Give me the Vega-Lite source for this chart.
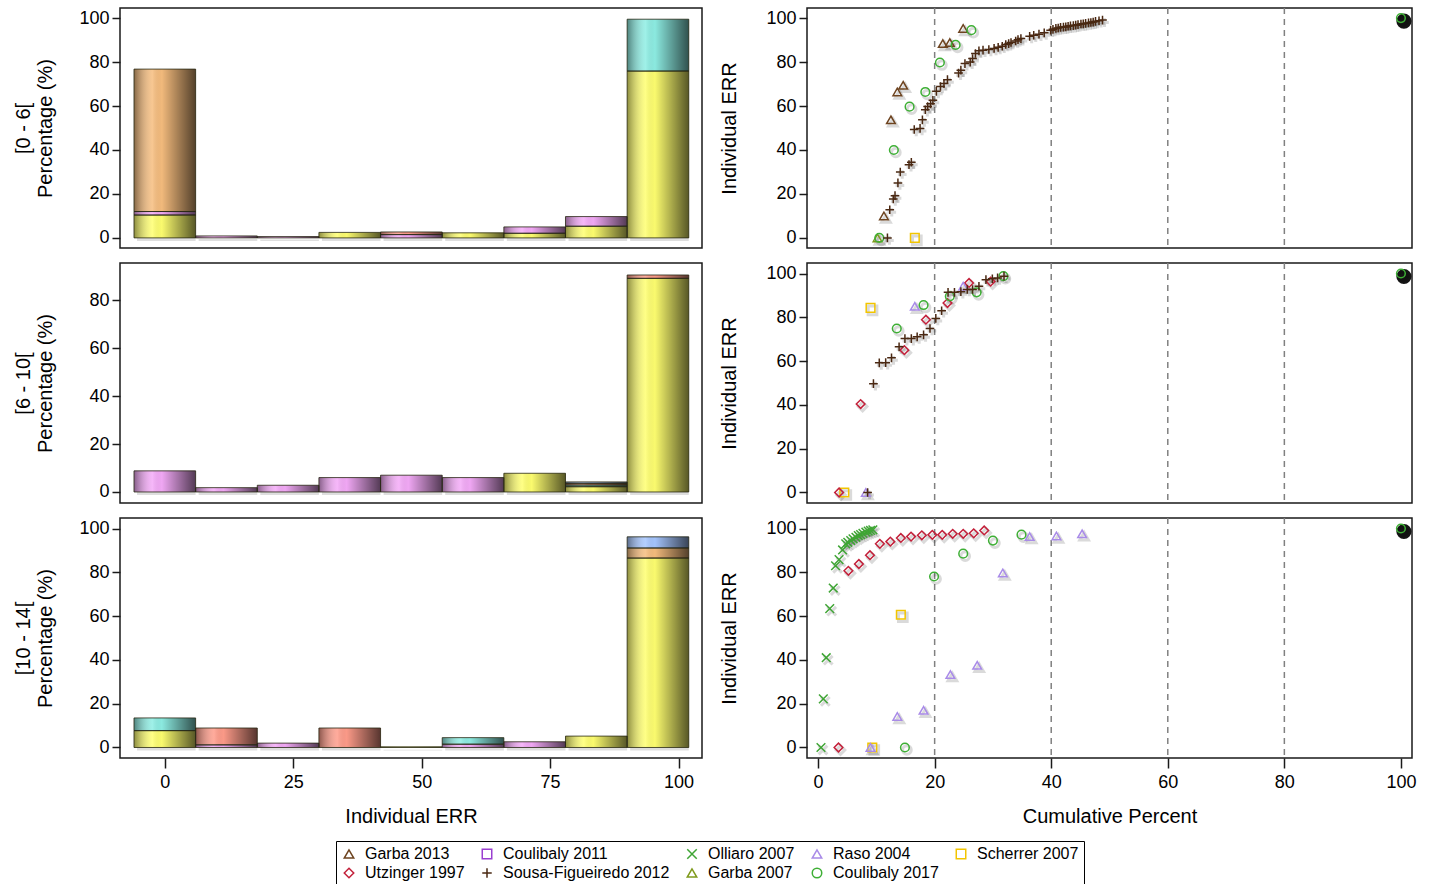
{
  "$schema": "https://vega.github.io/schema/vega-lite/v6.json",
  "padding": {"left": 12, "top": 6, "right": 5, "bottom": 5},
  "background": "#ffffff",
  "spacing": {"row": 9, "column": 15},
  "config": {
    "font": "Liberation Sans",
    "view": {"stroke": "#1a1a1a", "strokeWidth": 1.5},
    "axis": {"domain": false, "grid": false, "tickColor": "#1a1a1a", "tickWidth": 1.5, "tickSize": 8, "labelFontSize": 18, "labelColor": "#000", "titleFontSize": 20, "titleFontWeight": "normal", "titleColor": "#000", "labelPadding": 3}
  },
  "datasets": {
    "bars": [
      {"age":"[0 - 6[","lo":-6,"hi":6,"grp":"a","pct":10.4},
      {"age":"[0 - 6[","lo":-6,"hi":6,"grp":"b","pct":1.6},
      {"age":"[0 - 6[","lo":-6,"hi":6,"grp":"d","pct":64.8},
      {"age":"[0 - 6[","lo":6,"hi":18,"grp":"b","pct":0.9},
      {"age":"[0 - 6[","lo":18,"hi":30,"grp":"b","pct":0.6},
      {"age":"[0 - 6[","lo":30,"hi":42,"grp":"a","pct":2.5},
      {"age":"[0 - 6[","lo":42,"hi":54,"grp":"b","pct":1.5},
      {"age":"[0 - 6[","lo":42,"hi":54,"grp":"e","pct":1.2},
      {"age":"[0 - 6[","lo":54,"hi":66,"grp":"a","pct":2.3},
      {"age":"[0 - 6[","lo":66,"hi":78,"grp":"a","pct":2.1},
      {"age":"[0 - 6[","lo":66,"hi":78,"grp":"b","pct":2.9},
      {"age":"[0 - 6[","lo":78,"hi":90,"grp":"a","pct":5.3},
      {"age":"[0 - 6[","lo":78,"hi":90,"grp":"b","pct":4.4},
      {"age":"[0 - 6[","lo":90,"hi":102,"grp":"a","pct":75.9},
      {"age":"[0 - 6[","lo":90,"hi":102,"grp":"c","pct":23.6},
      {"age":"[6 - 10[","lo":-6,"hi":6,"grp":"b","pct":8.8},
      {"age":"[6 - 10[","lo":6,"hi":18,"grp":"b","pct":1.8},
      {"age":"[6 - 10[","lo":18,"hi":30,"grp":"b","pct":2.8},
      {"age":"[6 - 10[","lo":30,"hi":42,"grp":"b","pct":6.0},
      {"age":"[6 - 10[","lo":42,"hi":54,"grp":"b","pct":7.0},
      {"age":"[6 - 10[","lo":54,"hi":66,"grp":"b","pct":6.0},
      {"age":"[6 - 10[","lo":66,"hi":78,"grp":"a","pct":7.8},
      {"age":"[6 - 10[","lo":78,"hi":90,"grp":"a","pct":2.2},
      {"age":"[6 - 10[","lo":78,"hi":90,"grp":"c","pct":0.7},
      {"age":"[6 - 10[","lo":78,"hi":90,"grp":"f","pct":0.6},
      {"age":"[6 - 10[","lo":78,"hi":90,"grp":"e","pct":0.7},
      {"age":"[6 - 10[","lo":90,"hi":102,"grp":"a","pct":89.1},
      {"age":"[6 - 10[","lo":90,"hi":102,"grp":"e","pct":1.4},
      {"age":"[10 - 14[","lo":-6,"hi":6,"grp":"a","pct":7.7},
      {"age":"[10 - 14[","lo":-6,"hi":6,"grp":"c","pct":5.8},
      {"age":"[10 - 14[","lo":6,"hi":18,"grp":"b","pct":1.2},
      {"age":"[10 - 14[","lo":6,"hi":18,"grp":"e","pct":7.7},
      {"age":"[10 - 14[","lo":18,"hi":30,"grp":"b","pct":2.0},
      {"age":"[10 - 14[","lo":30,"hi":42,"grp":"e","pct":8.9},
      {"age":"[10 - 14[","lo":42,"hi":54,"grp":"a","pct":0.3},
      {"age":"[10 - 14[","lo":54,"hi":66,"grp":"b","pct":1.5},
      {"age":"[10 - 14[","lo":54,"hi":66,"grp":"c","pct":3.0},
      {"age":"[10 - 14[","lo":66,"hi":78,"grp":"b","pct":2.6},
      {"age":"[10 - 14[","lo":78,"hi":90,"grp":"a","pct":5.2},
      {"age":"[10 - 14[","lo":90,"hi":102,"grp":"a","pct":86.5},
      {"age":"[10 - 14[","lo":90,"hi":102,"grp":"d","pct":4.6},
      {"age":"[10 - 14[","lo":90,"hi":102,"grp":"f","pct":5.1}
    ],
    "vlines": [{"cp":20},{"cp":40},{"cp":60},{"cp":80}],
    "pts": [
      {"age":"[0 - 6[","study":"Garba 2013","cp":24.9,"err":95.3},
      {"age":"[0 - 6[","study":"Garba 2013","cp":21.4,"err":88.4},
      {"age":"[0 - 6[","study":"Garba 2013","cp":22.6,"err":88.9},
      {"age":"[0 - 6[","study":"Garba 2013","cp":14.6,"err":69.4},
      {"age":"[0 - 6[","study":"Garba 2013","cp":13.6,"err":66.4},
      {"age":"[0 - 6[","study":"Garba 2013","cp":12.5,"err":53.7},
      {"age":"[0 - 6[","study":"Garba 2013","cp":11.3,"err":10.0},
      {"age":"[0 - 6[","study":"Garba 2007","cp":10.2,"err":0},
      {"age":"[0 - 6[","study":"Scherrer 2007","cp":16.6,"err":0},
      {"age":"[0 - 6[","study":"Coulibaly 2017","cp":26.3,"err":94.5},
      {"age":"[0 - 6[","study":"Coulibaly 2017","cp":23.6,"err":87.8},
      {"age":"[0 - 6[","study":"Coulibaly 2017","cp":20.9,"err":79.8},
      {"age":"[0 - 6[","study":"Coulibaly 2017","cp":18.4,"err":66.4},
      {"age":"[0 - 6[","study":"Coulibaly 2017","cp":15.7,"err":59.7},
      {"age":"[0 - 6[","study":"Coulibaly 2017","cp":13.0,"err":40.0},
      {"age":"[0 - 6[","study":"Coulibaly 2017","cp":10.5,"err":0},
      {"age":"[0 - 6[","study":"Coulibaly 2017","cp":100,"err":100},
      {"age":"[0 - 6[","study":"Sousa-Figueiredo 2012","cp":11.9,"err":0},
      {"age":"[0 - 6[","study":"Sousa-Figueiredo 2012","cp":12.3,"err":12.8},
      {"age":"[0 - 6[","study":"Sousa-Figueiredo 2012","cp":12.9,"err":17.7},
      {"age":"[0 - 6[","study":"Sousa-Figueiredo 2012","cp":13.2,"err":19.2},
      {"age":"[0 - 6[","study":"Sousa-Figueiredo 2012","cp":13.7,"err":25.0},
      {"age":"[0 - 6[","study":"Sousa-Figueiredo 2012","cp":14.1,"err":30.0},
      {"age":"[0 - 6[","study":"Sousa-Figueiredo 2012","cp":15.6,"err":33.3},
      {"age":"[0 - 6[","study":"Sousa-Figueiredo 2012","cp":16.0,"err":34.4},
      {"age":"[0 - 6[","study":"Sousa-Figueiredo 2012","cp":16.5,"err":49.3},
      {"age":"[0 - 6[","study":"Sousa-Figueiredo 2012","cp":17.5,"err":49.8},
      {"age":"[0 - 6[","study":"Sousa-Figueiredo 2012","cp":17.9,"err":53.7},
      {"age":"[0 - 6[","study":"Sousa-Figueiredo 2012","cp":18.4,"err":58.3},
      {"age":"[0 - 6[","study":"Sousa-Figueiredo 2012","cp":18.8,"err":59.8},
      {"age":"[0 - 6[","study":"Sousa-Figueiredo 2012","cp":19.3,"err":61.0},
      {"age":"[0 - 6[","study":"Sousa-Figueiredo 2012","cp":19.7,"err":62.6},
      {"age":"[0 - 6[","study":"Sousa-Figueiredo 2012","cp":20.3,"err":66.7},
      {"age":"[0 - 6[","study":"Sousa-Figueiredo 2012","cp":21.0,"err":68.9},
      {"age":"[0 - 6[","study":"Sousa-Figueiredo 2012","cp":21.6,"err":70.2},
      {"age":"[0 - 6[","study":"Sousa-Figueiredo 2012","cp":22.2,"err":72.0},
      {"age":"[0 - 6[","study":"Sousa-Figueiredo 2012","cp":24.1,"err":75.0},
      {"age":"[0 - 6[","study":"Sousa-Figueiredo 2012","cp":24.5,"err":76.3},
      {"age":"[0 - 6[","study":"Sousa-Figueiredo 2012","cp":25.2,"err":79.3},
      {"age":"[0 - 6[","study":"Sousa-Figueiredo 2012","cp":26.1,"err":80.0},
      {"age":"[0 - 6[","study":"Sousa-Figueiredo 2012","cp":26.5,"err":81.6},
      {"age":"[0 - 6[","study":"Sousa-Figueiredo 2012","cp":27.0,"err":83.9},
      {"age":"[0 - 6[","study":"Sousa-Figueiredo 2012","cp":27.6,"err":85.1},
      {"age":"[0 - 6[","study":"Sousa-Figueiredo 2012","cp":28.3,"err":85.4},
      {"age":"[0 - 6[","study":"Sousa-Figueiredo 2012","cp":29.3,"err":85.7},
      {"age":"[0 - 6[","study":"Sousa-Figueiredo 2012","cp":30.2,"err":86.2},
      {"age":"[0 - 6[","study":"Sousa-Figueiredo 2012","cp":30.9,"err":86.7},
      {"age":"[0 - 6[","study":"Sousa-Figueiredo 2012","cp":31.6,"err":87.2},
      {"age":"[0 - 6[","study":"Sousa-Figueiredo 2012","cp":32.2,"err":88.0},
      {"age":"[0 - 6[","study":"Sousa-Figueiredo 2012","cp":32.7,"err":88.4},
      {"age":"[0 - 6[","study":"Sousa-Figueiredo 2012","cp":33.1,"err":88.9},
      {"age":"[0 - 6[","study":"Sousa-Figueiredo 2012","cp":33.9,"err":89.6},
      {"age":"[0 - 6[","study":"Sousa-Figueiredo 2012","cp":34.3,"err":90.2},
      {"age":"[0 - 6[","study":"Sousa-Figueiredo 2012","cp":34.8,"err":90.7},
      {"age":"[0 - 6[","study":"Sousa-Figueiredo 2012","cp":36.3,"err":91.7},
      {"age":"[0 - 6[","study":"Sousa-Figueiredo 2012","cp":37.0,"err":92.2},
      {"age":"[0 - 6[","study":"Sousa-Figueiredo 2012","cp":37.9,"err":92.7},
      {"age":"[0 - 6[","study":"Sousa-Figueiredo 2012","cp":38.8,"err":93.3},
      {"age":"[0 - 6[","study":"Sousa-Figueiredo 2012","cp":39.9,"err":94.5},
      {"age":"[0 - 6[","study":"Sousa-Figueiredo 2012","cp":40.3,"err":94.9},
      {"age":"[0 - 6[","study":"Sousa-Figueiredo 2012","cp":40.8,"err":95.3},
      {"age":"[0 - 6[","study":"Sousa-Figueiredo 2012","cp":41.2,"err":95.5},
      {"age":"[0 - 6[","study":"Sousa-Figueiredo 2012","cp":41.6,"err":95.8},
      {"age":"[0 - 6[","study":"Sousa-Figueiredo 2012","cp":42.1,"err":95.9},
      {"age":"[0 - 6[","study":"Sousa-Figueiredo 2012","cp":42.5,"err":96.0},
      {"age":"[0 - 6[","study":"Sousa-Figueiredo 2012","cp":42.9,"err":96.3},
      {"age":"[0 - 6[","study":"Sousa-Figueiredo 2012","cp":43.3,"err":96.5},
      {"age":"[0 - 6[","study":"Sousa-Figueiredo 2012","cp":43.8,"err":96.6},
      {"age":"[0 - 6[","study":"Sousa-Figueiredo 2012","cp":44.2,"err":96.8},
      {"age":"[0 - 6[","study":"Sousa-Figueiredo 2012","cp":44.6,"err":97.0},
      {"age":"[0 - 6[","study":"Sousa-Figueiredo 2012","cp":45.1,"err":97.3},
      {"age":"[0 - 6[","study":"Sousa-Figueiredo 2012","cp":45.5,"err":97.4},
      {"age":"[0 - 6[","study":"Sousa-Figueiredo 2012","cp":45.9,"err":97.6},
      {"age":"[0 - 6[","study":"Sousa-Figueiredo 2012","cp":46.4,"err":97.8},
      {"age":"[0 - 6[","study":"Sousa-Figueiredo 2012","cp":46.8,"err":98.0},
      {"age":"[0 - 6[","study":"Sousa-Figueiredo 2012","cp":47.2,"err":98.2},
      {"age":"[0 - 6[","study":"Sousa-Figueiredo 2012","cp":47.6,"err":98.5},
      {"age":"[0 - 6[","study":"Sousa-Figueiredo 2012","cp":48.2,"err":98.8},
      {"age":"[0 - 6[","study":"Sousa-Figueiredo 2012","cp":48.8,"err":99.1},
      {"age":"[6 - 10[","study":"Scherrer 2007","cp":9.0,"err":84.3},
      {"age":"[6 - 10[","study":"Scherrer 2007","cp":4.5,"err":0},
      {"age":"[6 - 10[","study":"Utzinger 1997","cp":3.6,"err":0},
      {"age":"[6 - 10[","study":"Utzinger 1997","cp":7.3,"err":40.4},
      {"age":"[6 - 10[","study":"Utzinger 1997","cp":14.8,"err":65.0},
      {"age":"[6 - 10[","study":"Utzinger 1997","cp":18.5,"err":78.9},
      {"age":"[6 - 10[","study":"Utzinger 1997","cp":22.2,"err":86.5},
      {"age":"[6 - 10[","study":"Utzinger 1997","cp":25.9,"err":95.7},
      {"age":"[6 - 10[","study":"Utzinger 1997","cp":29.6,"err":96.3},
      {"age":"[6 - 10[","study":"Raso 2004","cp":16.6,"err":85.0},
      {"age":"[6 - 10[","study":"Raso 2004","cp":8.2,"err":0},
      {"age":"[6 - 10[","study":"Raso 2004","cp":24.9,"err":94.2},
      {"age":"[6 - 10[","study":"Coulibaly 2017","cp":18.1,"err":85.6},
      {"age":"[6 - 10[","study":"Coulibaly 2017","cp":13.5,"err":74.9},
      {"age":"[6 - 10[","study":"Coulibaly 2017","cp":22.6,"err":89.6},
      {"age":"[6 - 10[","study":"Coulibaly 2017","cp":27.2,"err":91.4},
      {"age":"[6 - 10[","study":"Coulibaly 2017","cp":31.8,"err":98.8},
      {"age":"[6 - 10[","study":"Coulibaly 2017","cp":100,"err":100},
      {"age":"[6 - 10[","study":"Sousa-Figueiredo 2012","cp":8.5,"err":0},
      {"age":"[6 - 10[","study":"Sousa-Figueiredo 2012","cp":9.5,"err":49.7},
      {"age":"[6 - 10[","study":"Sousa-Figueiredo 2012","cp":10.5,"err":59.2},
      {"age":"[6 - 10[","study":"Sousa-Figueiredo 2012","cp":11.6,"err":59.3},
      {"age":"[6 - 10[","study":"Sousa-Figueiredo 2012","cp":12.6,"err":61.5},
      {"age":"[6 - 10[","study":"Sousa-Figueiredo 2012","cp":13.9,"err":66.5},
      {"age":"[6 - 10[","study":"Sousa-Figueiredo 2012","cp":14.9,"err":70.3},
      {"age":"[6 - 10[","study":"Sousa-Figueiredo 2012","cp":16.0,"err":70.3},
      {"age":"[6 - 10[","study":"Sousa-Figueiredo 2012","cp":17.0,"err":71.1},
      {"age":"[6 - 10[","study":"Sousa-Figueiredo 2012","cp":18.1,"err":72.0},
      {"age":"[6 - 10[","study":"Sousa-Figueiredo 2012","cp":19.2,"err":74.9},
      {"age":"[6 - 10[","study":"Sousa-Figueiredo 2012","cp":20.2,"err":79.5},
      {"age":"[6 - 10[","study":"Sousa-Figueiredo 2012","cp":21.2,"err":83.0},
      {"age":"[6 - 10[","study":"Sousa-Figueiredo 2012","cp":22.3,"err":91.4},
      {"age":"[6 - 10[","study":"Sousa-Figueiredo 2012","cp":23.4,"err":91.4},
      {"age":"[6 - 10[","study":"Sousa-Figueiredo 2012","cp":24.5,"err":91.7},
      {"age":"[6 - 10[","study":"Sousa-Figueiredo 2012","cp":25.6,"err":92.7},
      {"age":"[6 - 10[","study":"Sousa-Figueiredo 2012","cp":26.5,"err":92.7},
      {"age":"[6 - 10[","study":"Sousa-Figueiredo 2012","cp":27.6,"err":94.2},
      {"age":"[6 - 10[","study":"Sousa-Figueiredo 2012","cp":28.8,"err":97.2},
      {"age":"[6 - 10[","study":"Sousa-Figueiredo 2012","cp":29.9,"err":97.6},
      {"age":"[6 - 10[","study":"Sousa-Figueiredo 2012","cp":30.8,"err":98.0},
      {"age":"[6 - 10[","study":"Sousa-Figueiredo 2012","cp":31.9,"err":98.8},
      {"age":"[10 - 14[","study":"Olliaro 2007","cp":0.5,"err":0},
      {"age":"[10 - 14[","study":"Olliaro 2007","cp":0.9,"err":22.2},
      {"age":"[10 - 14[","study":"Olliaro 2007","cp":1.4,"err":41.0},
      {"age":"[10 - 14[","study":"Olliaro 2007","cp":2.0,"err":63.4},
      {"age":"[10 - 14[","study":"Olliaro 2007","cp":2.6,"err":72.8},
      {"age":"[10 - 14[","study":"Olliaro 2007","cp":3.0,"err":83.0},
      {"age":"[10 - 14[","study":"Olliaro 2007","cp":3.6,"err":85.8},
      {"age":"[10 - 14[","study":"Olliaro 2007","cp":4.2,"err":90.2},
      {"age":"[10 - 14[","study":"Olliaro 2007","cp":4.75,"err":93.0},
      {"age":"[10 - 14[","study":"Olliaro 2007","cp":5.1,"err":93.7},
      {"age":"[10 - 14[","study":"Olliaro 2007","cp":5.6,"err":94.5},
      {"age":"[10 - 14[","study":"Olliaro 2007","cp":6.0,"err":95.3},
      {"age":"[10 - 14[","study":"Olliaro 2007","cp":6.5,"err":96.0},
      {"age":"[10 - 14[","study":"Olliaro 2007","cp":6.9,"err":96.8},
      {"age":"[10 - 14[","study":"Olliaro 2007","cp":7.3,"err":97.2},
      {"age":"[10 - 14[","study":"Olliaro 2007","cp":7.7,"err":97.8},
      {"age":"[10 - 14[","study":"Olliaro 2007","cp":8.2,"err":98.3},
      {"age":"[10 - 14[","study":"Olliaro 2007","cp":8.6,"err":98.8},
      {"age":"[10 - 14[","study":"Olliaro 2007","cp":9.0,"err":99.1},
      {"age":"[10 - 14[","study":"Olliaro 2007","cp":9.4,"err":99.4},
      {"age":"[10 - 14[","study":"Utzinger 1997","cp":3.5,"err":0},
      {"age":"[10 - 14[","study":"Utzinger 1997","cp":5.2,"err":80.7},
      {"age":"[10 - 14[","study":"Utzinger 1997","cp":7.0,"err":83.8},
      {"age":"[10 - 14[","study":"Utzinger 1997","cp":8.9,"err":87.8},
      {"age":"[10 - 14[","study":"Utzinger 1997","cp":10.6,"err":93.0},
      {"age":"[10 - 14[","study":"Utzinger 1997","cp":12.4,"err":94.0},
      {"age":"[10 - 14[","study":"Utzinger 1997","cp":14.2,"err":95.7},
      {"age":"[10 - 14[","study":"Utzinger 1997","cp":15.95,"err":96.3},
      {"age":"[10 - 14[","study":"Utzinger 1997","cp":17.8,"err":96.9},
      {"age":"[10 - 14[","study":"Utzinger 1997","cp":19.6,"err":97.1},
      {"age":"[10 - 14[","study":"Utzinger 1997","cp":21.3,"err":97.1},
      {"age":"[10 - 14[","study":"Utzinger 1997","cp":23.1,"err":97.6},
      {"age":"[10 - 14[","study":"Utzinger 1997","cp":24.9,"err":97.6},
      {"age":"[10 - 14[","study":"Utzinger 1997","cp":26.7,"err":97.8},
      {"age":"[10 - 14[","study":"Utzinger 1997","cp":28.5,"err":99.1},
      {"age":"[10 - 14[","study":"Coulibaly 2017","cp":14.9,"err":0},
      {"age":"[10 - 14[","study":"Coulibaly 2017","cp":19.9,"err":78.1},
      {"age":"[10 - 14[","study":"Coulibaly 2017","cp":24.9,"err":88.5},
      {"age":"[10 - 14[","study":"Coulibaly 2017","cp":30.0,"err":94.5},
      {"age":"[10 - 14[","study":"Coulibaly 2017","cp":34.9,"err":97.2},
      {"age":"[10 - 14[","study":"Coulibaly 2017","cp":100,"err":100},
      {"age":"[10 - 14[","study":"Scherrer 2007","cp":14.2,"err":60.6},
      {"age":"[10 - 14[","study":"Scherrer 2007","cp":9.3,"err":0},
      {"age":"[10 - 14[","study":"Raso 2004","cp":9.0,"err":0},
      {"age":"[10 - 14[","study":"Raso 2004","cp":13.6,"err":14.2},
      {"age":"[10 - 14[","study":"Raso 2004","cp":18.1,"err":17.0},
      {"age":"[10 - 14[","study":"Raso 2004","cp":22.7,"err":33.3},
      {"age":"[10 - 14[","study":"Raso 2004","cp":27.3,"err":37.5},
      {"age":"[10 - 14[","study":"Raso 2004","cp":31.7,"err":79.7},
      {"age":"[10 - 14[","study":"Raso 2004","cp":36.3,"err":96.3},
      {"age":"[10 - 14[","study":"Raso 2004","cp":40.9,"err":96.6},
      {"age":"[10 - 14[","study":"Raso 2004","cp":45.3,"err":97.6}
    ]
  },
  "columns": 2,
  "concat": [
    {
      "width": 582, "height": 240,
      "data": {"name": "bars"},
      "transform": [{"filter": "datum.age == '[0 - 6['"}],
      "encoding": {
        "x": {"field": "lo", "type": "quantitative", "scale": {"domain": [-7.75, 103.6], "nice": false, "zero": false}, "axis": null},
        "x2": {"field": "hi"},
        "y": {"field": "pct", "type": "quantitative", "stack": "zero", "scale": {"domain": [-4.6, 104.6], "nice": false, "zero": false},
              "axis": {"values": [0, 20, 40, 60, 80, 100], "title": ["[0 - 6[", "Percentage (%)"], "titleLineHeight": 22, "minExtent": 43, "maxExtent": 43, "titlePadding": 22}},
        "order": {"field": "grp", "sort": "ascending"}
      },
      "layer": [
        {"mark": {"type": "bar", "orient": "vertical", "fill": "#000", "opacity": 0.13, "xOffset": 3, "yOffset": 3}, "encoding": {"detail": {"field": "grp"}}},
        {"mark": {"type": "bar", "orient": "vertical"}, "encoding": {"color": {"field": "grp", "type": "nominal", "scale": {"domain": ["a","b","c","d","e","f"], "range": ["#ffff70","#f4aaf8","#8eeee4","#f6bd7e","#ff9c8a","#a6c6ff"]}, "legend": null}}},
        {"mark": {"type": "bar", "orient": "vertical", "stroke": "rgba(40,40,20,0.8)", "strokeWidth": 1,
                  "fill": {"gradient": "linear", "x1": 0, "y1": 0, "x2": 1, "y2": 0, "stops": [{"offset": 0, "color": "rgba(0,0,0,0.45)"}, {"offset": 0.3, "color": "rgba(255,255,255,0.15)"}, {"offset": 0.45, "color": "rgba(0,0,0,0.02)"}, {"offset": 1, "color": "rgba(0,0,0,0.66)"}]}},
         "encoding": {"detail": {"field": "grp"}}}
      ]
    },
    {
      "width": 605, "height": 240,
      "layer": [
        {"data": {"name": "vlines"}, "mark": {"type": "rule", "strokeDash": [6, 5], "color": "#808080", "strokeWidth": 1.5},
         "encoding": {"x": {"field": "cp", "type": "quantitative", "scale": {"domain": [-1.9, 101.9], "nice": false, "zero": false}, "axis": null}}},
        {"data": {"name": "pts"}, "transform": [{"filter": "datum.age == '[0 - 6[' && datum.cp == 100"}],
         "mark": {"type": "point", "shape": "circle", "filled": true, "color": "#000", "opacity": 0.92, "size": 230, "xOffset": 3, "yOffset": 3},
         "encoding": {"x": {"field": "cp", "type": "quantitative", "scale": {"domain": [-1.9, 101.9], "nice": false, "zero": false}, "axis": null},
                      "y": {"field": "err", "type": "quantitative", "scale": {"domain": [-4.6, 104.6], "nice": false, "zero": false}, "axis": {"values": [0, 20, 40, 60, 80, 100], "title": "Individual ERR", "minExtent": 43, "maxExtent": 43, "titlePadding": 25}}}},
        {"mark": {"type": "rule", "strokeDash": [9, 5], "color": "#858585", "strokeWidth": 2.5},
         "encoding": {"y": {"datum": 0.5, "type": "quantitative", "scale": {"domain": [-4.6, 104.6], "nice": false, "zero": false}, "axis": {"values": [0, 20, 40, 60, 80, 100], "title": "Individual ERR", "minExtent": 43, "maxExtent": 43, "titlePadding": 25}}}},
        {"data": {"name": "pts"}, "transform": [{"filter": "datum.age == '[0 - 6['"}],
         "mark": {"type": "point", "filled": false, "size": 75, "strokeWidth": 3, "stroke": "#000", "opacity": 0.14, "xOffset": 2, "yOffset": 2.5},
         "encoding": {
           "x": {"field": "cp", "type": "quantitative", "scale": {"domain": [-1.9, 101.9], "nice": false, "zero": false}, "axis": null},
           "y": {"field": "err", "type": "quantitative", "scale": {"domain": [-4.6, 104.6], "nice": false, "zero": false}, "axis": {"values": [0, 20, 40, 60, 80, 100], "title": "Individual ERR", "minExtent": 43, "maxExtent": 43, "titlePadding": 25}},
           "shape": {"condition": [
             {"test": "datum.study == 'Garba 2013' || datum.study == 'Raso 2004' || datum.study == 'Garba 2007'", "value": "triangle-up"},
             {"test": "datum.study == 'Coulibaly 2011' || datum.study == 'Scherrer 2007'", "value": "square"},
             {"test": "datum.study == 'Olliaro 2007'", "value": "M-1,-1L1,1M-1,1L1,-1"},
             {"test": "datum.study == 'Utzinger 1997'", "value": "diamond"},
             {"test": "datum.study == 'Sousa-Figueiredo 2012'", "value": "M0,-1L0,1M-1,0L1,0"}], "value": "circle"}
         }},
        {"data": {"name": "pts"}, "transform": [{"filter": "datum.age == '[0 - 6['"}],
         "mark": {"type": "point", "filled": false, "size": 75, "strokeWidth": 1.5, "opacity": 1},
         "encoding": {
           "x": {"field": "cp", "type": "quantitative", "scale": {"domain": [-1.9, 101.9], "nice": false, "zero": false}, "axis": null},
           "y": {"field": "err", "type": "quantitative", "scale": {"domain": [-4.6, 104.6], "nice": false, "zero": false}, "axis": {"values": [0, 20, 40, 60, 80, 100], "title": "Individual ERR", "minExtent": 43, "maxExtent": 43, "titlePadding": 25}},
           "stroke": {"field": "study", "type": "nominal", "scale": {"domain": ["Garba 2013","Coulibaly 2011","Olliaro 2007","Raso 2004","Scherrer 2007","Utzinger 1997","Sousa-Figueiredo 2012","Garba 2007","Coulibaly 2017"], "range": ["#6e4420","#9a3fd0","#3fa535","#a98be8","#f2c500","#c3203a","#4a2812","#7f9a1c","#3eaf35"]},
                      "legend": {"orient": "none", "legendX": 216, "legendY": 833, "direction": "horizontal", "columns": 5, "title": null, "strokeColor": "#000", "padding": 5, "labelFontSize": 16, "labelColor": "#000", "labelLimit": 300, "symbolSize": 90, "symbolStrokeWidth": 1.5, "columnPadding": 14, "rowPadding": 3, "labelOffset": 8}},
           "shape": {"field": "study", "type": "nominal", "scale": {"domain": ["Garba 2013","Coulibaly 2011","Olliaro 2007","Raso 2004","Scherrer 2007","Utzinger 1997","Sousa-Figueiredo 2012","Garba 2007","Coulibaly 2017"], "range": ["triangle-up","square","M-1,-1L1,1M-1,1L1,-1","triangle-up","square","diamond","M0,-1L0,1M-1,0L1,0","triangle-up","circle"]},
                      "legend": {"orient": "none", "legendX": 216, "legendY": 833, "direction": "horizontal", "columns": 5, "title": null, "strokeColor": "#000", "padding": 5, "labelFontSize": 16, "labelColor": "#000", "labelLimit": 300, "symbolSize": 90, "symbolStrokeWidth": 1.5, "columnPadding": 14, "rowPadding": 3, "labelOffset": 8}}
         }}
      ]
    },
    {
      "width": 582, "height": 240,
      "data": {"name": "bars"},
      "transform": [{"filter": "datum.age == '[6 - 10['"}],
      "encoding": {
        "x": {"field": "lo", "type": "quantitative", "scale": {"domain": [-7.75, 103.6], "nice": false, "zero": false}, "axis": null},
        "x2": {"field": "hi"},
        "y": {"field": "pct", "type": "quantitative", "stack": "zero", "scale": {"domain": [-4.6, 95.5], "nice": false, "zero": false},
              "axis": {"values": [0, 20, 40, 60, 80], "title": ["[6 - 10[", "Percentage (%)"], "titleLineHeight": 22, "minExtent": 43, "maxExtent": 43, "titlePadding": 22}},
        "order": {"field": "grp", "sort": "ascending"}
      },
      "layer": [
        {"mark": {"type": "bar", "orient": "vertical", "fill": "#000", "opacity": 0.13, "xOffset": 3, "yOffset": 3}, "encoding": {"detail": {"field": "grp"}}},
        {"mark": {"type": "bar", "orient": "vertical"}, "encoding": {"color": {"field": "grp", "type": "nominal", "scale": {"domain": ["a","b","c","d","e","f"], "range": ["#ffff70","#f4aaf8","#8eeee4","#f6bd7e","#ff9c8a","#a6c6ff"]}, "legend": null}}},
        {"mark": {"type": "bar", "orient": "vertical", "stroke": "rgba(40,40,20,0.8)", "strokeWidth": 1,
                  "fill": {"gradient": "linear", "x1": 0, "y1": 0, "x2": 1, "y2": 0, "stops": [{"offset": 0, "color": "rgba(0,0,0,0.45)"}, {"offset": 0.3, "color": "rgba(255,255,255,0.15)"}, {"offset": 0.45, "color": "rgba(0,0,0,0.02)"}, {"offset": 1, "color": "rgba(0,0,0,0.66)"}]}},
         "encoding": {"detail": {"field": "grp"}}}
      ]
    },
    {
      "width": 605, "height": 240,
      "layer": [
        {"data": {"name": "vlines"}, "mark": {"type": "rule", "strokeDash": [6, 5], "color": "#808080", "strokeWidth": 1.5},
         "encoding": {"x": {"field": "cp", "type": "quantitative", "scale": {"domain": [-1.9, 101.9], "nice": false, "zero": false}, "axis": null}}},
        {"data": {"name": "pts"}, "transform": [{"filter": "datum.age == '[6 - 10[' && datum.cp == 100"}],
         "mark": {"type": "point", "shape": "circle", "filled": true, "color": "#000", "opacity": 0.92, "size": 230, "xOffset": 3, "yOffset": 3},
         "encoding": {"x": {"field": "cp", "type": "quantitative", "scale": {"domain": [-1.9, 101.9], "nice": false, "zero": false}, "axis": null},
                      "y": {"field": "err", "type": "quantitative", "scale": {"domain": [-4.8, 104.8], "nice": false, "zero": false}, "axis": {"values": [0, 20, 40, 60, 80, 100], "title": "Individual ERR", "minExtent": 43, "maxExtent": 43, "titlePadding": 25}}}},
        {"mark": {"type": "rule", "strokeDash": [9, 5], "color": "#858585", "strokeWidth": 2.5},
         "encoding": {"y": {"datum": 0.5, "type": "quantitative", "scale": {"domain": [-4.8, 104.8], "nice": false, "zero": false}, "axis": {"values": [0, 20, 40, 60, 80, 100], "title": "Individual ERR", "minExtent": 43, "maxExtent": 43, "titlePadding": 25}}}},
        {"data": {"name": "pts"}, "transform": [{"filter": "datum.age == '[6 - 10['"}],
         "mark": {"type": "point", "filled": false, "size": 75, "strokeWidth": 3, "stroke": "#000", "opacity": 0.14, "xOffset": 2, "yOffset": 2.5},
         "encoding": {
           "x": {"field": "cp", "type": "quantitative", "scale": {"domain": [-1.9, 101.9], "nice": false, "zero": false}, "axis": null},
           "y": {"field": "err", "type": "quantitative", "scale": {"domain": [-4.8, 104.8], "nice": false, "zero": false}, "axis": {"values": [0, 20, 40, 60, 80, 100], "title": "Individual ERR", "minExtent": 43, "maxExtent": 43, "titlePadding": 25}},
           "shape": {"condition": [
             {"test": "datum.study == 'Garba 2013' || datum.study == 'Raso 2004' || datum.study == 'Garba 2007'", "value": "triangle-up"},
             {"test": "datum.study == 'Coulibaly 2011' || datum.study == 'Scherrer 2007'", "value": "square"},
             {"test": "datum.study == 'Olliaro 2007'", "value": "M-1,-1L1,1M-1,1L1,-1"},
             {"test": "datum.study == 'Utzinger 1997'", "value": "diamond"},
             {"test": "datum.study == 'Sousa-Figueiredo 2012'", "value": "M0,-1L0,1M-1,0L1,0"}], "value": "circle"}
         }},
        {"data": {"name": "pts"}, "transform": [{"filter": "datum.age == '[6 - 10['"}],
         "mark": {"type": "point", "filled": false, "size": 75, "strokeWidth": 1.5, "opacity": 1},
         "encoding": {
           "x": {"field": "cp", "type": "quantitative", "scale": {"domain": [-1.9, 101.9], "nice": false, "zero": false}, "axis": null},
           "y": {"field": "err", "type": "quantitative", "scale": {"domain": [-4.8, 104.8], "nice": false, "zero": false}, "axis": {"values": [0, 20, 40, 60, 80, 100], "title": "Individual ERR", "minExtent": 43, "maxExtent": 43, "titlePadding": 25}},
           "stroke": {"field": "study", "type": "nominal"},
           "shape": {"field": "study", "type": "nominal"}
         }}
      ]
    },
    {
      "width": 582, "height": 240,
      "data": {"name": "bars"},
      "transform": [{"filter": "datum.age == '[10 - 14['"}],
      "encoding": {
        "x": {"field": "lo", "type": "quantitative", "scale": {"domain": [-7.75, 103.6], "nice": false, "zero": false},
              "axis": {"values": [0, 25, 50, 75, 100], "title": "Individual ERR", "tickSize": 10, "labelPadding": 5, "titlePadding": 15}},
        "x2": {"field": "hi"},
        "y": {"field": "pct", "type": "quantitative", "stack": "zero", "scale": {"domain": [-4.8, 104.8], "nice": false, "zero": false},
              "axis": {"values": [0, 20, 40, 60, 80, 100], "title": ["[10 - 14[", "Percentage (%)"], "titleLineHeight": 22, "minExtent": 43, "maxExtent": 43, "titlePadding": 22}},
        "order": {"field": "grp", "sort": "ascending"}
      },
      "layer": [
        {"mark": {"type": "bar", "orient": "vertical", "fill": "#000", "opacity": 0.13, "xOffset": 3, "yOffset": 3}, "encoding": {"detail": {"field": "grp"}}},
        {"mark": {"type": "bar", "orient": "vertical"}, "encoding": {"color": {"field": "grp", "type": "nominal", "scale": {"domain": ["a","b","c","d","e","f"], "range": ["#ffff70","#f4aaf8","#8eeee4","#f6bd7e","#ff9c8a","#a6c6ff"]}, "legend": null}}},
        {"mark": {"type": "bar", "orient": "vertical", "stroke": "rgba(40,40,20,0.8)", "strokeWidth": 1,
                  "fill": {"gradient": "linear", "x1": 0, "y1": 0, "x2": 1, "y2": 0, "stops": [{"offset": 0, "color": "rgba(0,0,0,0.45)"}, {"offset": 0.3, "color": "rgba(255,255,255,0.15)"}, {"offset": 0.45, "color": "rgba(0,0,0,0.02)"}, {"offset": 1, "color": "rgba(0,0,0,0.66)"}]}},
         "encoding": {"detail": {"field": "grp"}}}
      ]
    },
    {
      "width": 605, "height": 240,
      "layer": [
        {"data": {"name": "vlines"}, "mark": {"type": "rule", "strokeDash": [6, 5], "color": "#808080", "strokeWidth": 1.5},
         "encoding": {"x": {"field": "cp", "type": "quantitative", "scale": {"domain": [-1.9, 101.9], "nice": false, "zero": false},
                            "axis": {"values": [0, 20, 40, 60, 80, 100], "title": "Cumulative Percent", "tickSize": 10, "labelPadding": 5, "titlePadding": 15}}}},
        {"data": {"name": "pts"}, "transform": [{"filter": "datum.age == '[10 - 14[' && datum.cp == 100"}],
         "mark": {"type": "point", "shape": "circle", "filled": true, "color": "#000", "opacity": 0.92, "size": 230, "xOffset": 3, "yOffset": 3},
         "encoding": {"x": {"field": "cp", "type": "quantitative", "scale": {"domain": [-1.9, 101.9], "nice": false, "zero": false}, "axis": {"values": [0, 20, 40, 60, 80, 100], "title": "Cumulative Percent", "tickSize": 10, "labelPadding": 5, "titlePadding": 15}},
                      "y": {"field": "err", "type": "quantitative", "scale": {"domain": [-4.8, 104.8], "nice": false, "zero": false}, "axis": {"values": [0, 20, 40, 60, 80, 100], "title": "Individual ERR", "minExtent": 43, "maxExtent": 43, "titlePadding": 25}}}},
        {"mark": {"type": "rule", "strokeDash": [9, 5], "color": "#858585", "strokeWidth": 2.5},
         "encoding": {"y": {"datum": 0.5, "type": "quantitative", "scale": {"domain": [-4.8, 104.8], "nice": false, "zero": false}, "axis": {"values": [0, 20, 40, 60, 80, 100], "title": "Individual ERR", "minExtent": 43, "maxExtent": 43, "titlePadding": 25}}}},
        {"data": {"name": "pts"}, "transform": [{"filter": "datum.age == '[10 - 14['"}],
         "mark": {"type": "point", "filled": false, "size": 75, "strokeWidth": 3, "stroke": "#000", "opacity": 0.14, "xOffset": 2, "yOffset": 2.5},
         "encoding": {
           "x": {"field": "cp", "type": "quantitative", "scale": {"domain": [-1.9, 101.9], "nice": false, "zero": false}, "axis": {"values": [0, 20, 40, 60, 80, 100], "title": "Cumulative Percent", "tickSize": 10, "labelPadding": 5, "titlePadding": 15}},
           "y": {"field": "err", "type": "quantitative", "scale": {"domain": [-4.8, 104.8], "nice": false, "zero": false}, "axis": {"values": [0, 20, 40, 60, 80, 100], "title": "Individual ERR", "minExtent": 43, "maxExtent": 43, "titlePadding": 25}},
           "shape": {"condition": [
             {"test": "datum.study == 'Garba 2013' || datum.study == 'Raso 2004' || datum.study == 'Garba 2007'", "value": "triangle-up"},
             {"test": "datum.study == 'Coulibaly 2011' || datum.study == 'Scherrer 2007'", "value": "square"},
             {"test": "datum.study == 'Olliaro 2007'", "value": "M-1,-1L1,1M-1,1L1,-1"},
             {"test": "datum.study == 'Utzinger 1997'", "value": "diamond"},
             {"test": "datum.study == 'Sousa-Figueiredo 2012'", "value": "M0,-1L0,1M-1,0L1,0"}], "value": "circle"}
         }},
        {"data": {"name": "pts"}, "transform": [{"filter": "datum.age == '[10 - 14['"}],
         "mark": {"type": "point", "filled": false, "size": 75, "strokeWidth": 1.5, "opacity": 1},
         "encoding": {
           "x": {"field": "cp", "type": "quantitative", "scale": {"domain": [-1.9, 101.9], "nice": false, "zero": false}, "axis": {"values": [0, 20, 40, 60, 80, 100], "title": "Cumulative Percent", "tickSize": 10, "labelPadding": 5, "titlePadding": 15}},
           "y": {"field": "err", "type": "quantitative", "scale": {"domain": [-4.8, 104.8], "nice": false, "zero": false}, "axis": {"values": [0, 20, 40, 60, 80, 100], "title": "Individual ERR", "minExtent": 43, "maxExtent": 43, "titlePadding": 25}},
           "stroke": {"field": "study", "type": "nominal"},
           "shape": {"field": "study", "type": "nominal"}
         }}
      ]
    }
  ]
}
